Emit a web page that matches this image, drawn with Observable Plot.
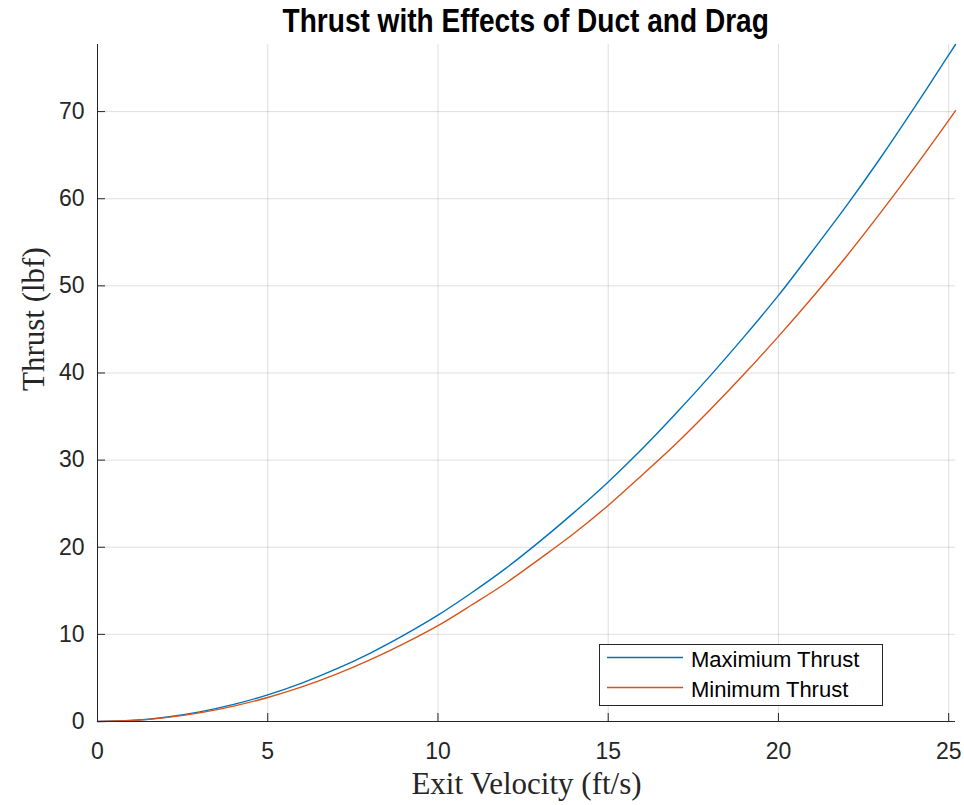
<!DOCTYPE html>
<html>
<head>
<meta charset="utf-8">
<script src="https://cdn.jsdelivr.net/npm/d3@7"></script>
<script src="https://cdn.jsdelivr.net/npm/@observablehq/plot@0.6"></script>
<style>
  html, body { margin: 0; padding: 0; background: #fff; }
  #wrap { position: relative; width: 964px; height: 805px; overflow: hidden; }
  #title { position: absolute; left: 97px; width: 858px; top: 3px; text-align: center;
    font-family: "Liberation Sans", Arial, sans-serif;
    font-weight: bold; font-size: 34px; line-height: 34px; color: #000; }
  #title span { display: inline-block; transform: scaleX(0.825); transform-origin: 50% 50%; white-space: nowrap; }
  #legend { position: absolute; left: 599px; top: 644px; }
</style>
</head>
<body>
<div id="wrap">
  <div id="chart"></div>
  <div id="title"><span></span></div>
  <div id="legend"></div>
</div>
<script>
const titleText = "Thrust with Effects of Duct and Drag";
const xLabel = "Exit Velocity (ft/s)";
const yLabel = "Thrust (lbf)";
const seriesNames = ["Maximium Thrust", "Minimum Thrust"];
const seriesColors = ["#0072BD", "#D95319"];

const velocity = [0, 1, 2, 3, 4, 5, 6, 7, 8, 9, 10, 11, 12, 13, 14, 15, 16, 17, 18, 19, 20, 21, 22, 23, 24, 25, 25.2];
const maxThrust = [0, 0.12, 0.49, 1.10, 1.96, 3.06, 4.41, 6.0, 7.83, 9.91, 12.2, 14.8, 17.6, 20.7, 24.0, 27.5, 31.3, 35.4, 39.7, 44.2, 48.9, 54.0, 59.2, 64.7, 70.5, 76.5, 77.7];
const minThrust = [0, 0.11, 0.44, 0.99, 1.77, 2.76, 3.97, 5.41, 7.07, 8.94, 11.0, 13.4, 15.9, 18.7, 21.6, 24.8, 28.3, 31.9, 35.8, 39.9, 44.2, 48.7, 53.4, 58.4, 63.6, 69.0, 70.1];

const xTicks = [0, 5, 10, 15, 20, 25];
const yTicks = [0, 10, 20, 30, 40, 50, 60, 70];
const xDomain = [0, 25.2];
const yDomain = [0, 77.7];

const rows = [];
velocity.forEach((v, i) => {
  rows.push({v, t: maxThrust[i], s: seriesNames[0]});
});
velocity.forEach((v, i) => {
  rows.push({v, t: minThrust[i], s: seriesNames[1]});
});

const axisColor = "#262626";
const sans = "'Liberation Sans', Arial, Helvetica, sans-serif";
const serif = "'Liberation Serif', 'Times New Roman', serif";

const chart = Plot.plot({
  width: 964,
  height: 805,
  marginTop: 44,
  marginBottom: 84,
  marginLeft: 97,
  marginRight: 9,
  style: {fontFamily: sans, background: "#fff"},
  x: {domain: xDomain, label: null},
  y: {domain: yDomain, label: null},
  color: {domain: seriesNames, range: seriesColors},
  marks: [
    Plot.gridX(xTicks, {stroke: axisColor, strokeOpacity: 0.15}),
    Plot.gridY(yTicks, {stroke: axisColor, strokeOpacity: 0.15}),
    Plot.line(rows, {x: "v", y: "t", stroke: "s", strokeWidth: 1.4, curve: "catmull-rom"}),
    Plot.ruleX([xDomain[0]], {stroke: axisColor}),
    Plot.ruleY([yDomain[0]], {stroke: axisColor}),
    Plot.axisX({ticks: xTicks, tickSize: 8, dy: -8, tickFormat: () => "", label: null, stroke: axisColor}),
    Plot.axisY({ticks: yTicks, tickSize: 8, dx: 8, tickFormat: () => "", label: null, stroke: axisColor}),
    Plot.axisX({ticks: xTicks, tickSize: 0, tickPadding: 21, fontSize: 23, fill: axisColor, fontFamily: sans, label: null}),
    Plot.axisY({ticks: yTicks, tickSize: 0, tickPadding: 13, fontSize: 23, fill: axisColor, fontFamily: sans, label: null}),
    Plot.text([xLabel], {frameAnchor: "bottom", text: d => d, lineAnchor: "bottom", dy: 72, fontSize: 31, fontFamily: serif, fill: axisColor}),
    Plot.text([yLabel], {frameAnchor: "left", text: d => d, rotate: -90, lineAnchor: "bottom", dx: -54, dy: 8, fontSize: 31, fontFamily: serif, fill: axisColor})
  ]
});
document.getElementById("chart").appendChild(chart);
document.querySelector("#title span").textContent = titleText;

// legend
const lg = d3.select("#legend").append("svg").attr("width", 284).attr("height", 62);
lg.append("rect").attr("x", 0.5).attr("y", 0.5).attr("width", 283).attr("height", 61)
  .attr("fill", "#fff").attr("stroke", axisColor).attr("stroke-width", 1);
seriesNames.forEach((name, i) => {
  const yy = 13.5 + i * 30;
  lg.append("line").attr("x1", 8).attr("x2", 84).attr("y1", yy).attr("y2", yy)
    .attr("stroke", seriesColors[i]).attr("stroke-width", 1.4);
  lg.append("text").attr("x", 92).attr("y", yy + 9).attr("font-family", sans)
    .attr("font-size", 22).attr("fill", "#000").text(name);
});
</script>
</body>
</html>
